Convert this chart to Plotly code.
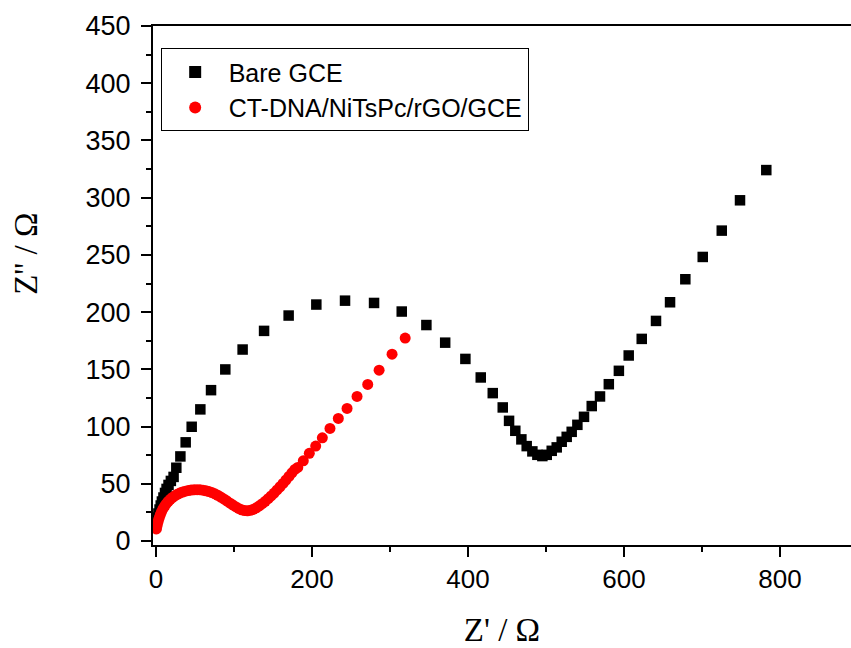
import plotly.graph_objects as go

# Bare GCE (black squares)
bare_x = [1, 2, 3, 4.5, 6, 7.5, 9.5, 11.5, 13.5, 16, 19, 22.5, 26, 31.2, 38, 45.7,
          56.8, 70.5, 88.8, 111, 138.5, 170, 205.5, 242.3, 279.5, 315, 346.6, 370.7,
          396.6, 416.3, 431.7, 444.5, 452.6, 460.6, 468.4, 475.2, 482.5, 488.9, 495.3,
          500.9, 507.3, 513.7, 520.1, 526.5, 532.9, 540.2, 548.7, 558.6, 569.2, 580.5,
          593.4, 606, 622.7, 641, 659, 678.6, 700.9, 725.3, 748.7, 782.4]
bare_y = [17, 20.5, 24, 27.5, 31, 34.5, 38, 42, 45.5, 49, 52.5, 56, 64, 73.9, 86.2, 99.8,
          115, 131.8, 149.9, 167.3, 183.6, 197, 206.6, 210, 208, 200.5, 188.7, 173.3,
          159.1, 142.9, 129.2, 116.7, 105, 96.3, 88.8, 82.9, 78.3, 75.3, 74.2,
          75.3, 78.8, 81.8, 86.7, 91, 95.4, 101.5, 108.5, 117.9, 126.3, 137,
          148.7, 162.1, 176.6, 192.3, 208.6, 228.7, 248.2, 271.2, 297.7, 324.1]

# CT-DNA/NiTsPc/rGO/GCE (red circles)
mod_x = [0.5, 1.2, 2, 3, 4.2, 5.5, 7, 8.8, 10.8, 13, 15.5, 18.2, 21, 24, 27.2, 30.5,
         34, 37.6, 41.3, 45, 48.8, 52.6, 56.4, 60.2, 64, 67.8, 71.6, 75.4, 79.2, 83,
         86.8, 90.6, 94.4, 98.2, 102, 105.8, 109.6, 113.4, 117.2, 121, 124.8, 128.6,
         132.4, 136.2, 140, 143.8, 147.6, 151.4, 155.2, 159, 162.8, 166.6, 170.4,
         174.2, 178, 181.7, 188.8, 196.5, 204.7, 213.2, 223, 233.7, 244.9, 257.7,
         271.4, 286, 302.6, 319.4]
mod_y = [10.5, 13, 15.5, 18, 20.5, 23, 25.5, 28, 30.3, 32.5, 34.5, 36.4, 38, 39.5, 40.8,
         41.9, 42.8, 43.5, 44.1, 44.5, 44.7, 44.8, 44.7, 44.4, 43.9, 43.2, 42.3, 41.2,
         39.9, 38.4, 36.8, 35.1, 33.3, 31.6, 30, 28.5, 27.3, 26.6, 26.4, 26.8, 27.7,
         29, 30.7, 32.6, 34.7, 37, 39.4, 41.9, 44.6, 47.4, 50.3, 53.3, 56.4, 59.6,
         62.5, 64.3, 70.1, 76.6, 82.9, 90.2, 98.4, 107.1, 115.8, 126.3, 136.8, 149.3,
         163.2, 177.3]

x_ticks = [0, 200, 400, 600, 800]
y_ticks = [0, 50, 100, 150, 200, 250, 300, 350, 400, 450]

fig = go.Figure()
fig.add_trace(go.Scatter(x=bare_x, y=bare_y, mode="markers", name="Bare GCE",
                         marker=dict(symbol="square", size=10.5, color="black")))
fig.add_trace(go.Scatter(x=mod_x, y=mod_y, mode="markers", name="CT-DNA/NiTsPc/rGO/GCE",
                         marker=dict(symbol="circle", size=11, color="#ff0000")))

sans = "Liberation Sans, Arial, sans-serif"
serif = "Liberation Serif, Times New Roman, serif"

fig.update_layout(
    width=851, height=648,
    margin=dict(l=153, r=0, t=26, b=103),
    paper_bgcolor="white", plot_bgcolor="white",
    font=dict(family=sans, color="black"),
    showlegend=True,
    legend=dict(x=0.011, y=0.957, xanchor="left", yanchor="top",
                bordercolor="black", borderwidth=1, bgcolor="white",
                font=dict(size=25, family=sans), itemsizing="constant",
                indentation=0, itemwidth=57, tracegroupgap=0),
    annotations=[dict(text="Z'' / Ω", xref="paper", yref="paper",
                      x=-0.182, y=0.561, xanchor="center", yanchor="middle",
                      textangle=-90, showarrow=False,
                      font=dict(size=33, family=serif, color="black"))],
)
fig.update_xaxes(
    range=[-3.9, 891], tickvals=x_ticks, ticktext=[str(v) for v in x_ticks],
    showgrid=False, zeroline=False, showline=True, linecolor="black", linewidth=2,
    mirror=True, ticks="outside", ticklen=10, tickwidth=2, tickcolor="black",
    tickfont=dict(size=26, family=sans),
    minor=dict(dtick=100, tick0=0, ticks="outside", ticklen=5, tickwidth=2, tickcolor="black"),
    title=dict(text="Z' / Ω", font=dict(size=33, family=serif), standoff=25),
)
fig.update_yaxes(
    range=[-3.5, 450], tickvals=y_ticks, ticktext=[str(v) for v in y_ticks],
    showgrid=False, zeroline=False, showline=True, linecolor="black", linewidth=2,
    ticks="outside", ticklen=10, tickwidth=2, tickcolor="black",
    tickfont=dict(size=27, family=sans), ticklabelstandoff=5,
    minor=dict(dtick=25, tick0=0, ticks="outside", ticklen=5, tickwidth=2, tickcolor="black"),
)

fig.write_html("out.html", config={"displayModeBar": False},
               post_script="document.body.style.margin='0';")
